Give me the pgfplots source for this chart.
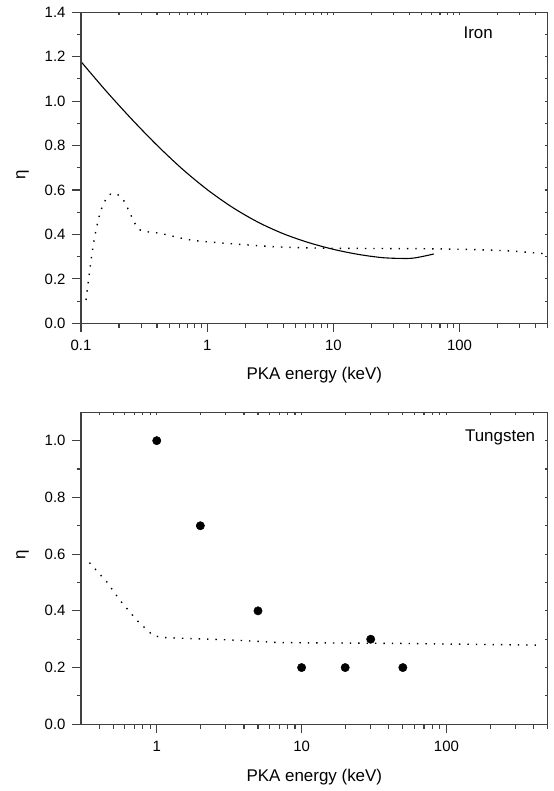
\documentclass[border=0pt]{standalone}
\usepackage{pgfplots}
\pgfplotsset{compat=1.18}
\usepackage{fontspec}
\setmainfont{Liberation Sans}
\definecolor{axgray}{HTML}{404040}

\tikzset{
  solidc/.style={black, line width=1.1bp},
  dotc/.style={black, line width=1.4bp, dash pattern=on 1.4bp off 7bp},
}

\pgfplotstableread{
x y
0.1 1.178
0.1585 1.045
0.2512 0.920
0.3981 0.803
0.631 0.696
1 0.602
1.585 0.522
2.512 0.456
3.981 0.404
6.31 0.364
10 0.333
15.85 0.310
25.12 0.295
39.81 0.292
50.12 0.300
62.5 0.312
}\ironsolid

\pgfplotstableread{
x y
0.1096 0.105
0.125 0.352
0.1415 0.495
0.162 0.570
0.186 0.585
0.217 0.555
0.252 0.48
0.294 0.42
0.424 0.405
0.69 0.378
1 0.367
3.36 0.345
9.5 0.338
66.5 0.335
225 0.327
497 0.312
}\irondot

\pgfplotstableread{
x y
0.343 0.570
0.452 0.502
0.558 0.437
0.728 0.367
0.938 0.314
1.08 0.306
3.37 0.297
7.08 0.288
50 0.285
440 0.279
}\wdot

\pgfplotstableread{
x y
1 1.0
2 0.7
5 0.4
10 0.2
20 0.2
30 0.3
50 0.2
}\wpts

\begin{document}
\begin{tikzpicture}
\path[use as bounding box] (0bp,0bp) rectangle (554bp,791bp);

% ---------- Iron ----------
\begin{axis}[
  scale only axis, width=466.7bp, height=311bp, xmode=log, anchor=south west,
  at={(81bp,467.7bp)},
  axis line style={axgray, line width=1.3bp},
  every tick/.style={axgray, line width=1.1bp},
  minor y tick num=1,
  xtick pos=left, ytick pos=left, tick align=outside,
  major tick length=9bp, minor tick length=4.5bp,
  ticklabel style={font=\fontsize{15}{18}\selectfont},
  xticklabel style={yshift=-4bp},
  yticklabel style={xshift=-3bp},
  /pgf/number format/assume math mode=true,
  yticklabel={\pgfmathprintnumber[fixed,fixed zerofill,precision=1]{\tick}},
  label style={font=\fontsize{17}{20}\selectfont},
  xmin=0.1, xmax=500, ymin=0, ymax=1.4,
  xtick={0.1,1,10,100}, xticklabels={0.1,1,10,100},
  minor xtick={0.2,0.3,0.4,0.5,0.6,0.7,0.8,0.9,2,3,4,5,6,7,8,9,20,30,40,50,60,70,80,90,200,300,400,500},
  ytick={0,0.2,...,1.4},
  xlabel={PKA energy (keV)},
  xlabel style={at={(axis description cs:0.5,-0.166)}, anchor=center},
  ylabel={η},
  ylabel style={at={(axis description cs:-0.125,0.477)}, anchor=center},
]
\addplot[solidc, smooth] table {\ironsolid};
\addplot[dotc, smooth] table {\irondot};
\node[font=\fontsize{17}{20}\selectfont] at (axis description cs:0.851,0.933) {Iron};
\end{axis}
\begin{axis}[
  scale only axis, width=466.7bp, height=311bp, xmode=log, anchor=south west,
  at={(81bp,467.7bp)},
  axis line style={axgray, line width=1.3bp},
  every tick/.style={axgray, line width=1.1bp},
  minor y tick num=1,
  xtick pos=right, ytick pos=right, tick align=inside,
  major tick length=3bp, minor tick length=3bp,
  xticklabels={}, yticklabels={},
  ticklabel style={opacity=0},
  xmin=0.1, xmax=500, ymin=0, ymax=1.4,
  xtick={0.1,1,10,100},
  minor xtick={0.2,0.3,0.4,0.5,0.6,0.7,0.8,0.9,2,3,4,5,6,7,8,9,20,30,40,50,60,70,80,90,200,300,400,500},
  ytick={0,0.2,...,1.4},
]
\end{axis}

% ---------- Tungsten ----------
\begin{axis}[
  scale only axis, width=466.7bp, height=312bp, xmode=log, anchor=south west,
  at={(81bp,66.7bp)},
  axis line style={axgray, line width=1.3bp},
  every tick/.style={axgray, line width=1.1bp},
  minor y tick num=1,
  xtick pos=left, ytick pos=left, tick align=outside,
  major tick length=9bp, minor tick length=4.5bp,
  ticklabel style={font=\fontsize{15}{18}\selectfont},
  xticklabel style={yshift=-4bp},
  yticklabel style={xshift=-3bp},
  /pgf/number format/assume math mode=true,
  yticklabel={\pgfmathprintnumber[fixed,fixed zerofill,precision=1]{\tick}},
  label style={font=\fontsize{17}{20}\selectfont},
  xmin=0.3, xmax=500, ymin=0, ymax=1.1,
  xtick={1,10,100}, xticklabels={1,10,100},
  minor xtick={0.4,0.5,0.6,0.7,0.8,0.9,2,3,4,5,6,7,8,9,20,30,40,50,60,70,80,90,200,300,400,500},
  ytick={0,0.2,...,1.0},
  xlabel={PKA energy (keV)},
  xlabel style={at={(axis description cs:0.5,-0.168)}, anchor=center},
  ylabel={η},
  ylabel style={at={(axis description cs:-0.125,0.543)}, anchor=center},
]
\addplot[dotc] table {\wdot};
\addplot[only marks, mark=*, mark size=4.2bp, black] table {\wpts};
\node[font=\fontsize{17}{20}\selectfont] at (axis description cs:0.898,0.918) {Tungsten};
\end{axis}
\begin{axis}[
  scale only axis, width=466.7bp, height=312bp, xmode=log, anchor=south west,
  at={(81bp,66.7bp)},
  axis line style={axgray, line width=1.3bp},
  every tick/.style={axgray, line width=1.1bp},
  minor y tick num=1,
  xtick pos=right, ytick pos=right, tick align=inside,
  major tick length=3bp, minor tick length=3bp,
  xticklabels={}, yticklabels={},
  ticklabel style={opacity=0},
  xmin=0.3, xmax=500, ymin=0, ymax=1.1,
  xtick={1,10,100},
  minor xtick={0.4,0.5,0.6,0.7,0.8,0.9,2,3,4,5,6,7,8,9,20,30,40,50,60,70,80,90,200,300,400,500},
  ytick={0,0.2,...,1.0},
]
\end{axis}
\end{tikzpicture}
\end{document}
